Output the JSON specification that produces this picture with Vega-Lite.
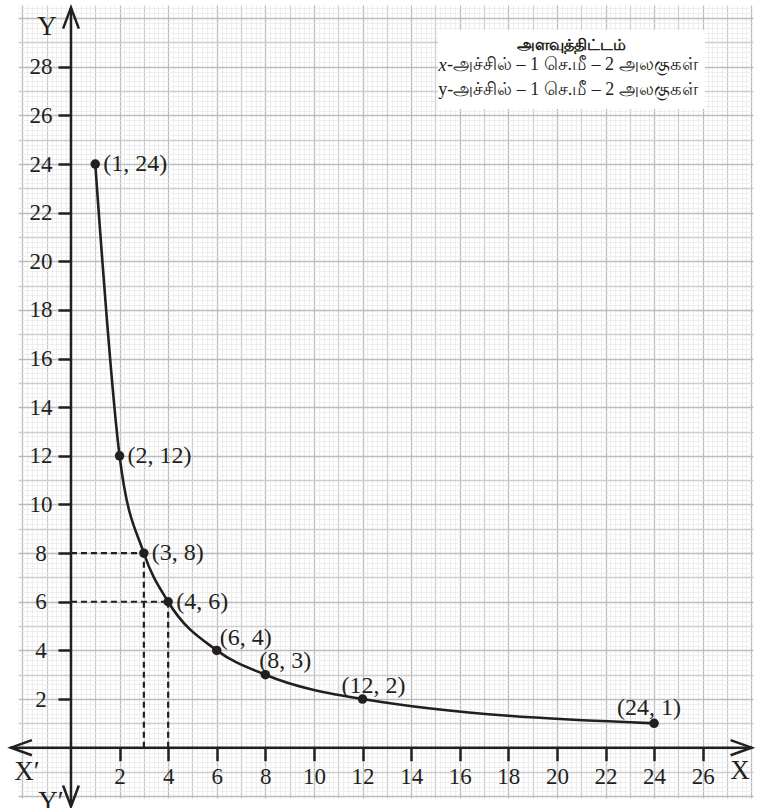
{
  "$schema": "https://vega.github.io/schema/vega-lite/v6.json",
  "width": 735,
  "height": 793,
  "autosize": {"type": "none"},
  "padding": {"left": 18, "top": 5, "right": 11, "bottom": 10},
  "background": "white",
  "config": {"view": {"stroke": null}, "font": "Liberation Serif"},
  "datasets": {
    "points": [
      {"x": 1, "y": 24, "label": "(1, 24)", "side": "r"},
      {"x": 2, "y": 12, "label": "(2, 12)", "side": "r"},
      {"x": 3, "y": 8, "label": "(3, 8)", "side": "r"},
      {"x": 4, "y": 6, "label": "(4, 6)", "side": "r"},
      {"x": 6, "y": 4, "label": "(6, 4)", "side": "a"},
      {"x": 8, "y": 3, "label": "(8, 3)", "side": "b"},
      {"x": 12, "y": 2, "label": "(12, 2)", "side": "c"},
      {"x": 24, "y": 1, "label": "(24, 1)", "side": "d"}
    ],
    "dashes": [
      {"x": 0, "y": 8, "x2": 3, "y2": 8},
      {"x": 3, "y": 0, "x2": 3, "y2": 8},
      {"x": 0, "y": 6, "x2": 4, "y2": 6},
      {"x": 4, "y": 0, "x2": 4, "y2": 6}
    ],
    "axes": [
      {"x": 0, "y": -2.4, "x2": 0, "y2": 30.41},
      {"x": -2.51, "y": 0, "x2": 28.03, "y2": 0}
    ],
    "arrows": [
      {"x": 0, "y": 30.0, "dir": "up"},
      {"x": 0, "y": -1.99, "dir": "down"},
      {"x": -2.04, "y": 0, "dir": "left"},
      {"x": 27.58, "y": 0, "dir": "right"}
    ],
    "names": [
      {"x": -0.99, "y": 29.63, "t": "Y"},
      {"x": 27.54, "y": -0.96, "t": "X"},
      {"x": -1.81, "y": -1.02, "t": "X′"},
      {"x": -0.82, "y": -2.25, "t": "Y′"}
    ],
    "box": [{"x": 15.11, "x2": 26.09, "y": 29.51, "y2": 26.26}],
    "boxTitle": [{"x": 20.62, "y": 28.89, "t": "அளவுத்திட்டம்"}],
    "boxItalic": [{"x": 15.12, "y": 28.07, "t": "x"}],
    "boxLines": [
      {"x": 15.48, "y": 28.07, "t": "-அச்சில் – 1 செ.மீ – 2 அலகுகள்"},
      {"x": 15.12, "y": 27.04, "t": "y-அச்சில் – 1 செ.மீ – 2 அலகுகள்"}
    ]
  },
  "encoding": {
    "x": {
      "field": "x",
      "type": "quantitative",
      "scale": {"domain": [-2.18, 28.07], "nice": false, "zero": false},
      "axis": {
        "title": null,
        "domain": false,
        "offset": -50.3,
        "values": [-2,-1.8,-1.6,-1.4,-1.2,-1,-0.8,-0.6,-0.4,-0.2,0,0.2,0.4,0.6,0.8,1,1.2,1.4,1.6,1.8,2,2.2,2.4,2.6,2.8,3,3.2,3.4,3.6,3.8,4,4.2,4.4,4.6,4.8,5,5.2,5.4,5.6,5.8,6,6.2,6.4,6.6,6.8,7,7.2,7.4,7.6,7.8,8,8.2,8.4,8.6,8.8,9,9.2,9.4,9.6,9.8,10,10.2,10.4,10.6,10.8,11,11.2,11.4,11.6,11.8,12,12.2,12.4,12.6,12.8,13,13.2,13.4,13.6,13.8,14,14.2,14.4,14.6,14.8,15,15.2,15.4,15.6,15.8,16,16.2,16.4,16.6,16.8,17,17.2,17.4,17.6,17.8,18,18.2,18.4,18.6,18.8,19,19.2,19.4,19.6,19.8,20,20.2,20.4,20.6,20.8,21,21.2,21.4,21.6,21.8,22,22.2,22.4,22.6,22.8,23,23.2,23.4,23.6,23.8,24,24.2,24.4,24.6,24.8,25,25.2,25.4,25.6,25.8,26,26.2,26.4,26.6,26.8,27,27.2,27.4,27.6,27.8,28],
        "grid": true,
        "gridColor": {"condition": [{"test": "datum.value % 2 === 0", "value": "#bcbcbc"}, {"test": "datum.value % 1 === 0", "value": "#cdcdcd"}], "value": "#e8e8e8"},
        "gridWidth": {"condition": {"test": "datum.value % 1 === 0", "value": 1.3}, "value": 0.7},
        "tickSize": 13,
        "tickWidth": 2.5,
        "tickColor": "#231f20",
        "tickOpacity": {"condition": {"test": "datum.value >= 2 && datum.value <= 26 && datum.value % 2 === 0", "value": 1}, "value": 0},
        "labelExpr": "datum.value >= 2 && datum.value <= 26 && datum.value % 2 === 0 ? '' + datum.value : ''",
        "labelFont": "Liberation Serif",
        "labelFontSize": 23,
        "labelColor": "#231f20",
        "labelPadding": 5,
        "labelOverlap": false,
        "labelFlush": false,
        "labelBound": false,
        "zindex": 0
      }
    },
    "y": {
      "field": "y",
      "type": "quantitative",
      "scale": {"domain": [-2.07, 30.54], "nice": false, "zero": false},
      "axis": {
        "title": null,
        "domain": false,
        "offset": -52.97,
        "values": [-2,-1.8,-1.6,-1.4,-1.2,-1,-0.8,-0.6,-0.4,-0.2,0,0.2,0.4,0.6,0.8,1,1.2,1.4,1.6,1.8,2,2.2,2.4,2.6,2.8,3,3.2,3.4,3.6,3.8,4,4.2,4.4,4.6,4.8,5,5.2,5.4,5.6,5.8,6,6.2,6.4,6.6,6.8,7,7.2,7.4,7.6,7.8,8,8.2,8.4,8.6,8.8,9,9.2,9.4,9.6,9.8,10,10.2,10.4,10.6,10.8,11,11.2,11.4,11.6,11.8,12,12.2,12.4,12.6,12.8,13,13.2,13.4,13.6,13.8,14,14.2,14.4,14.6,14.8,15,15.2,15.4,15.6,15.8,16,16.2,16.4,16.6,16.8,17,17.2,17.4,17.6,17.8,18,18.2,18.4,18.6,18.8,19,19.2,19.4,19.6,19.8,20,20.2,20.4,20.6,20.8,21,21.2,21.4,21.6,21.8,22,22.2,22.4,22.6,22.8,23,23.2,23.4,23.6,23.8,24,24.2,24.4,24.6,24.8,25,25.2,25.4,25.6,25.8,26,26.2,26.4,26.6,26.8,27,27.2,27.4,27.6,27.8,28,28.2,28.4,28.6,28.8,29,29.2,29.4,29.6,29.8,30,30.2,30.4],
        "grid": true,
        "gridColor": {"condition": [{"test": "datum.value % 2 === 0", "value": "#bcbcbc"}, {"test": "datum.value % 1 === 0", "value": "#cdcdcd"}], "value": "#e8e8e8"},
        "gridWidth": {"condition": {"test": "datum.value % 1 === 0", "value": 1.3}, "value": 0.7},
        "tickSize": 13,
        "tickWidth": 2.5,
        "tickColor": "#231f20",
        "tickOpacity": {"condition": {"test": "datum.value >= 2 && datum.value <= 28 && datum.value % 2 === 0", "value": 1}, "value": 0},
        "labelExpr": "datum.value >= 2 && datum.value <= 28 && datum.value % 2 === 0 ? '' + datum.value : ''",
        "labelFont": "Liberation Serif",
        "labelFontSize": 23,
        "labelColor": "#231f20",
        "labelAlign": "center",
        "labelPadding": 17.5,
        "labelOverlap": false,
        "labelFlush": false,
        "labelBound": false,
        "zindex": 0
      }
    }
  },
  "layer": [
    {
      "data": {"name": "box"},
      "mark": {"type": "rect", "color": "white", "opacity": 1, "clip": false},
      "encoding": {"x2": {"field": "x2"}, "y2": {"field": "y2"}}
    },
    {
      "data": {"name": "dashes"},
      "mark": {"type": "rule", "color": "#231f20", "strokeWidth": 2.2, "strokeDash": [6, 4]},
      "encoding": {"x2": {"field": "x2"}, "y2": {"field": "y2"}}
    },
    {
      "data": {"name": "axes"},
      "mark": {"type": "rule", "color": "#231f20", "strokeWidth": 2.5, "clip": false},
      "encoding": {"x2": {"field": "x2"}, "y2": {"field": "y2"}}
    },
    {
      "data": {"name": "arrows"},
      "mark": {"type": "point", "filled": false, "color": "#231f20", "strokeWidth": 2.5, "size": 441, "opacity": 1, "clip": false},
      "encoding": {
        "shape": {
          "field": "dir",
          "type": "nominal",
          "scale": {
            "domain": ["up", "down", "left", "right"],
            "range": ["M -0.75 1 L 0 -1 L 0.75 1", "M -0.75 -1 L 0 1 L 0.75 -1", "M 1 -0.72 L -1 0 L 1 0.72", "M -1 -0.72 L 1 0 L -1 0.72"]
          },
          "legend": null
        }
      }
    },
    {
      "data": {"name": "points"},
      "mark": {"type": "line", "color": "#231f20", "strokeWidth": 2.6, "interpolate": "monotone"}
    },
    {
      "data": {"name": "points"},
      "mark": {"type": "point", "filled": true, "color": "#231f20", "size": 90, "opacity": 1}
    },
    {
      "data": {"name": "points"},
      "transform": [{"filter": "datum.side === 'r'"}],
      "mark": {"type": "text", "align": "left", "baseline": "middle", "dx": 8, "fontSize": 24, "color": "#231f20"},
      "encoding": {"text": {"field": "label"}}
    },
    {
      "data": {"name": "points"},
      "transform": [{"filter": "datum.side === 'a'"}],
      "mark": {"type": "text", "align": "left", "baseline": "middle", "dx": 3, "dy": -12, "fontSize": 24, "color": "#231f20"},
      "encoding": {"text": {"field": "label"}}
    },
    {
      "data": {"name": "points"},
      "transform": [{"filter": "datum.side === 'b'"}],
      "mark": {"type": "text", "align": "left", "baseline": "middle", "dx": -6, "dy": -14, "fontSize": 24, "color": "#231f20"},
      "encoding": {"text": {"field": "label"}}
    },
    {
      "data": {"name": "points"},
      "transform": [{"filter": "datum.side === 'c'"}],
      "mark": {"type": "text", "align": "left", "baseline": "middle", "dx": -21, "dy": -13, "fontSize": 24, "color": "#231f20"},
      "encoding": {"text": {"field": "label"}}
    },
    {
      "data": {"name": "points"},
      "transform": [{"filter": "datum.side === 'd'"}],
      "mark": {"type": "text", "align": "left", "baseline": "middle", "dx": -37, "dy": -15, "fontSize": 24, "color": "#231f20"},
      "encoding": {"text": {"field": "label"}}
    },
    {
      "data": {"name": "names"},
      "mark": {"type": "text", "align": "center", "baseline": "middle", "fontSize": 27, "color": "#231f20", "clip": false},
      "encoding": {"text": {"field": "t"}}
    },
    {
      "data": {"name": "boxTitle"},
      "mark": {"type": "text", "align": "center", "baseline": "middle", "fontSize": 16, "fontWeight": "bold", "font": "Noto Sans", "color": "#231f20"},
      "encoding": {"text": {"field": "t"}}
    },
    {
      "data": {"name": "boxItalic"},
      "mark": {"type": "text", "align": "left", "baseline": "middle", "fontSize": 19, "fontStyle": "italic", "color": "#231f20"},
      "encoding": {"text": {"field": "t"}}
    },
    {
      "data": {"name": "boxLines"},
      "mark": {"type": "text", "align": "left", "baseline": "middle", "fontSize": 18, "color": "#231f20"},
      "encoding": {"text": {"field": "t"}}
    }
  ]
}
